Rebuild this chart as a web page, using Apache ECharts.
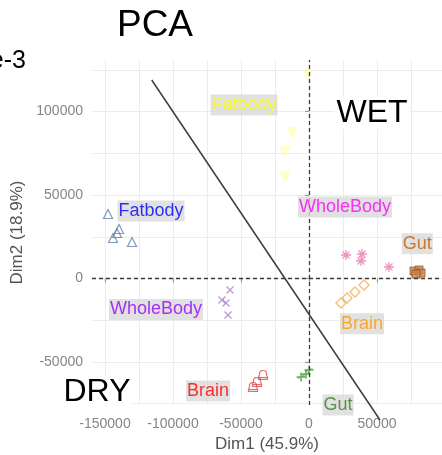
<!DOCTYPE html>
<html>
<head>
<meta charset="utf-8">
<script src="https://cdn.jsdelivr.net/npm/echarts@6/dist/echarts.min.js"></script>
<style>
  html, body { margin: 0; padding: 0; background: #ffffff; }
  #chart { width: 442px; height: 455px; }
</style>
</head>
<body>
<div id="chart"></div>
<script>
// PCA scores (Dim1, Dim2) per tissue, dry and wet samples
const dryFatbody   = [[-147800, 38620], [-139700, 29640], [-141200, 27250], [-144100, 24250], [-130150, 21860]];
const dryWholeBody = [[-58090, -6890], [-63970, -12870], [-61030, -14670], [-59560, -21860]];
const dryBrain     = [[-41180, -64970], [-38240, -61980], [-33820, -57790]];
const dryGut       = [[-5880, -58980], [-2210, -57190], [0, -54790]];
const wetFatbody   = [[-12500, 87130], [-17650, 75750], [-17650, 60780], [-740, 121860]];
const wetWholeBody = [[27210, 14070], [38970, 14670], [38240, 10480], [58820, 6890]];
const wetGut       = [[77210, 4490], [80880, 5090], [82350, 3290], [78680, 2690]];
const wetBrain     = [[23530, -14670], [27940, -11680], [33820, -8080], [40440, -3890]];

// group labels and their anchor points
const labelText = ['Fatbody', 'WholeBody', 'Brain', 'Gut', 'Fatbody', 'WholeBody', 'Gut', 'Brain'];
const labelX    = [-116180, -112500, -74260, 21320, -47790, 26470, 79630, 38970];
const labelY    = [40420, -18560, -67370, -75750, 103890, 42810, 20840, -27070];

// axis ticks and grid lines
const xTicks = [-150000, -100000, -50000, 0, 50000];
const yTicks = [-50000, 0, 50000, 100000];
const xGrid  = [-150000, -125000, -100000, -75000, -50000, -25000, 0, 25000, 50000, 75000];
const yGrid  = [-75000, -50000, -25000, 0, 25000, 50000, 75000, 100000, 125000];

// line separating dry from wet samples
const dividerLine = [[-115660, 118860], [52210, -84730]];

const labelColors = ['#0000ff', '#9900ff', '#ff0000', '#3a7d1e', '#ffff00', '#ff00ff', '#c06000', '#ff9900'];

const FONT = 'Liberation Sans, Arial, sans-serif';
const X_RANGE = [-159560, 97790];
const Y_RANGE = [-75750, 130840];

const SYM_X = 'path://M0,0L10,10M10,0L0,10';
const SYM_PLUS = 'path://M5,0L5,10M0,5L10,5M1,6L9,4';
const SYM_STAR = 'path://M5,0L5,10M0,5L10,5M1.5,1.5L8.5,8.5M8.5,1.5L1.5,8.5';
const SYM_BELL = 'path://M5,0A3,3 0 0 1 8,4L9,8L1,8L2,4A3,3 0 0 1 5,0ZM1,8L9,8L9,10L1,10Z';

function strokeSeries(data, symbol, size, color, width) {
  return {
    type: 'scatter', data: data, symbol: symbol, symbolSize: size,
    itemStyle: { color: 'rgba(0,0,0,0)', borderColor: color, borderWidth: width },
    silent: true, z: 3
  };
}

const chart = echarts.init(document.getElementById('chart'), null, { renderer: 'canvas' });

const axisCommon = {
  type: 'value',
  axisLine: { show: false }
};
const plainNumber = v => String(v);

// big annotation words sit on white boxes
function boxText(x, y, text, size, align) {
  return {
    type: 'text', x: x, y: y, z: 100,
    style: {
      text: text, fontSize: size, fontFamily: FONT, fill: '#000',
      align: align, verticalAlign: 'middle',
      backgroundColor: '#ffffff', padding: [0, 2, 0, 2]
    }
  };
}

chart.setOption({
  animation: false,
  backgroundColor: '#ffffff',
  grid: { left: 92, top: 60, width: 350, height: 345, containLabel: false, outerBoundsMode: 'none' },
  xAxis: [
    Object.assign({}, axisCommon, {
      min: X_RANGE[0], max: X_RANGE[1],
      axisTick: { show: false, customValues: xGrid },
      axisLabel: { show: false },
      splitLine: { show: true, lineStyle: { color: '#ececec', width: 1 } }
    }),
    Object.assign({}, axisCommon, {
      min: X_RANGE[0], max: X_RANGE[1], position: 'bottom',
      axisTick: { show: true, customValues: xTicks, length: 4, lineStyle: { color: '#9a9a9a', width: 1.2 } },
      axisLabel: { customValues: xTicks, formatter: plainNumber, color: '#858585', fontSize: 14, fontFamily: FONT, margin: 12 },
      splitLine: { show: false },
      name: 'Dim1 (45.9%)', nameLocation: 'middle', nameGap: 30,
      nameTextStyle: { color: '#555555', fontSize: 17, fontFamily: FONT }
    })
  ],
  yAxis: [
    Object.assign({}, axisCommon, {
      min: Y_RANGE[0], max: Y_RANGE[1],
      axisTick: { show: false, customValues: yGrid },
      axisLabel: { show: false },
      splitLine: { show: true, lineStyle: { color: '#ececec', width: 1 } }
    }),
    Object.assign({}, axisCommon, {
      min: Y_RANGE[0], max: Y_RANGE[1], position: 'left',
      axisTick: { show: true, customValues: yTicks, length: 4, lineStyle: { color: '#9a9a9a', width: 1.2 } },
      axisLabel: { customValues: yTicks, formatter: plainNumber, color: '#858585', fontSize: 14, fontFamily: FONT, margin: 9 },
      splitLine: { show: false },
      name: 'Dim2 (18.9%)', nameLocation: 'middle', nameGap: 53, nameRotate: 90,
      nameTextStyle: { color: '#555555', fontSize: 17, fontFamily: FONT }
    })
  ],
  series: [
    // zero reference lines
    {
      type: 'scatter', data: [], silent: true,
      markLine: {
        silent: true, symbol: 'none', label: { show: false },
        lineStyle: { color: '#3a3a3a', type: [4, 3], width: 1.3 },
        data: [{ xAxis: 0 }, { yAxis: 0 }]
      },
      z: 2
    },
    // dry samples
    strokeSeries(dryFatbody, 'triangle', 9, '#5f7fa8', 1.2),
    strokeSeries(dryWholeBody, SYM_X, 7, '#a77cc8', 1.2),
    strokeSeries(dryBrain, SYM_BELL, 9, '#e04848', 1.2),
    strokeSeries(dryGut, SYM_PLUS, 9, '#4a9a3a', 1.6),
    // wet samples
    {
      type: 'scatter', data: wetFatbody, symbol: 'triangle', symbolRotate: 180, symbolSize: 12,
      itemStyle: { color: 'rgba(255,255,110,0.45)' }, silent: true, z: 3
    },
    strokeSeries(wetWholeBody, SYM_STAR, 10, '#e77bb0', 1.3),
    {
      type: 'scatter', data: wetGut, symbol: 'rect', symbolSize: 8,
      itemStyle: { color: '#d0864a', borderColor: '#7a4420', borderWidth: 0.8 }, silent: true, z: 3
    },
    strokeSeries(wetBrain, 'diamond', 10, '#f3ab55', 1.3),
    // divider
    {
      type: 'line', data: dividerLine, symbol: 'none', clip: false, silent: true,
      lineStyle: { color: '#3c3c3c', width: 1.5 }, z: 4
    },
    // group labels
    {
      type: 'scatter', symbolSize: 0, clip: false, silent: true, z: 5,
      data: labelText.map((t, i) => ({ name: t, value: [labelX[i], labelY[i]], label: { color: labelColors[i] } })),
      label: {
        show: true, position: 'inside', formatter: '{b}',
        fontSize: 18, fontFamily: FONT,
        backgroundColor: '#d9d9d9', padding: [2, 1, 1, 1]
      }
    }
  ],
  graphic: [
    boxText(155, 26, 'PCA', 37, 'center'),
    boxText(28, 61, 'e-3', 25, 'right'),
    boxText(372, 113, 'WET', 32, 'center'),
    boxText(97, 392, 'DRY', 32, 'center')
  ]
});
</script>
</body>
</html>
